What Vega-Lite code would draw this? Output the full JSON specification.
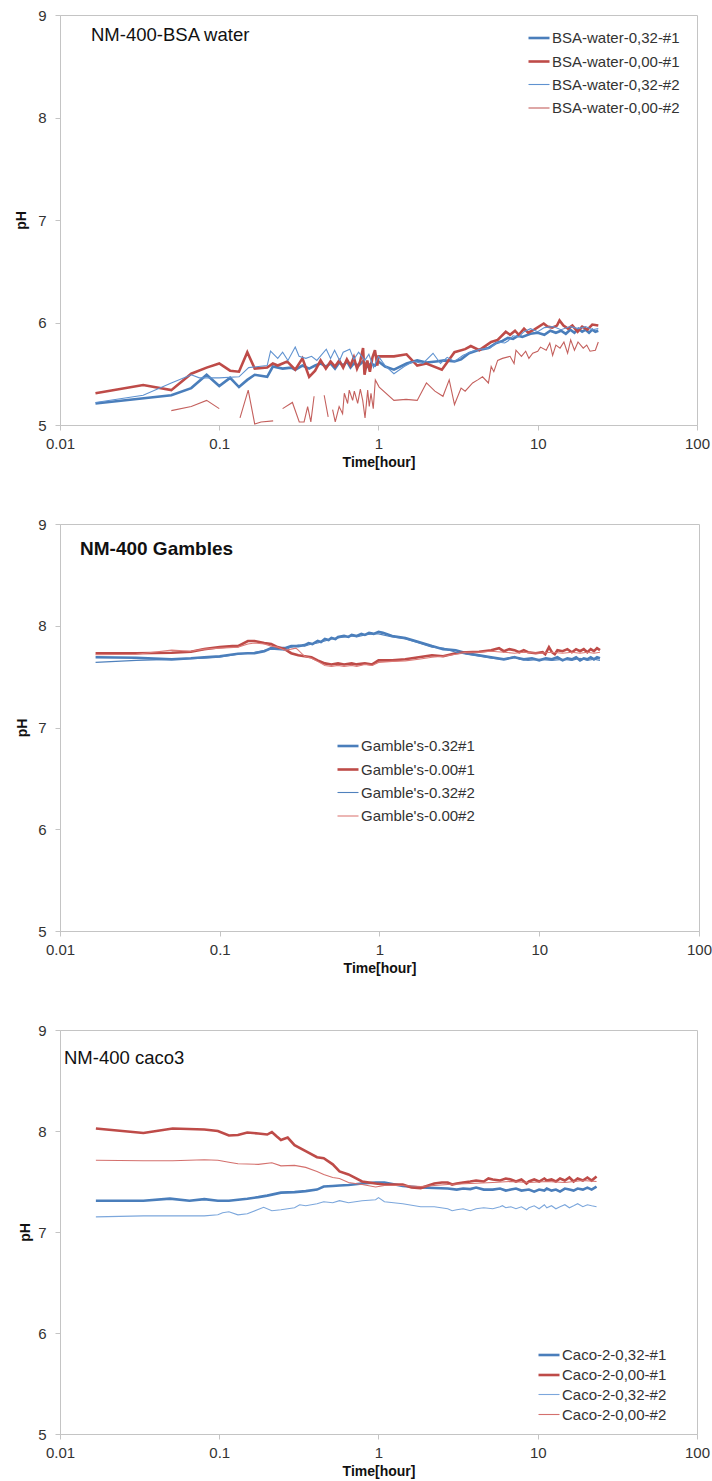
{
  "$schema": "https://vega.github.io/schema/vega-lite/v6.json",
  "background": "white",
  "padding": {"left": 14, "top": 7, "right": 10, "bottom": 5},
  "spacing": 46,
  "config": {
    "font": "Liberation Sans",
    "view": {"stroke": "#c4c4c4", "strokeWidth": 1},
    "axis": {
      "grid": false,
      "domainColor": "#c4c4c4",
      "tickColor": "#c4c4c4",
      "tickSize": 5,
      "labelFontSize": 15,
      "labelColor": "#333333",
      "titleFontSize": 14,
      "titleFontWeight": "bold",
      "titleColor": "#111111"
    },
    "axisX": {"labelPadding": 6, "titlePadding": 4, "labelFlush": false},
    "axisY": {"labelPadding": 9, "titlePadding": 9, "labelFlush": false},
    "legend": {
      "orient": "none",
      "padding": 0,
      "symbolType": "stroke",
      "symbolSize": 441,
      "labelFontSize": 15,
      "labelColor": "#333333",
      "labelOffset": 1,
      "rowPadding": 3.5
    },
    "title": {"anchor": "start", "frame": "group", "color": "#111111", "fontWeight": "normal"}
  },
  "resolve": {"scale": {"color": "independent", "strokeWidth": "independent"}, "legend": {"color": "independent", "strokeWidth": "independent"}},
  "datasets": {
    "bsa": [
      {"run": "0,32-#1", "t": 0.0167, "pH": 5.21}, {"run": "0,32-#1", "t": 0.05, "pH": 5.29}, {"run": "0,32-#1", "t": 0.0667, "pH": 5.36},
      {"run": "0,32-#1", "t": 0.0833, "pH": 5.49}, {"run": "0,32-#1", "t": 0.1, "pH": 5.38}, {"run": "0,32-#1", "t": 0.117, "pH": 5.46},
      {"run": "0,32-#1", "t": 0.133, "pH": 5.37}, {"run": "0,32-#1", "t": 0.15, "pH": 5.44}, {"run": "0,32-#1", "t": 0.167, "pH": 5.49},
      {"run": "0,32-#1", "t": 0.2, "pH": 5.47}, {"run": "0,32-#1", "t": 0.217, "pH": 5.57}, {"run": "0,32-#1", "t": 0.25, "pH": 5.55},
      {"run": "0,32-#1", "t": 0.283, "pH": 5.56}, {"run": "0,32-#1", "t": 0.3, "pH": 5.54}, {"run": "0,32-#1", "t": 0.333, "pH": 5.58},
      {"run": "0,32-#1", "t": 0.367, "pH": 5.55}, {"run": "0,32-#1", "t": 0.4, "pH": 5.58}, {"run": "0,32-#1", "t": 0.433, "pH": 5.6},
      {"run": "0,32-#1", "t": 0.467, "pH": 5.57}, {"run": "0,32-#1", "t": 0.5, "pH": 5.6}, {"run": "0,32-#1", "t": 0.533, "pH": 5.55},
      {"run": "0,32-#1", "t": 0.567, "pH": 5.61}, {"run": "0,32-#1", "t": 0.6, "pH": 5.58}, {"run": "0,32-#1", "t": 0.633, "pH": 5.62},
      {"run": "0,32-#1", "t": 0.667, "pH": 5.56}, {"run": "0,32-#1", "t": 0.7, "pH": 5.6}, {"run": "0,32-#1", "t": 0.75, "pH": 5.58},
      {"run": "0,32-#1", "t": 0.8, "pH": 5.62}, {"run": "0,32-#1", "t": 0.85, "pH": 5.57}, {"run": "0,32-#1", "t": 0.9, "pH": 5.6},
      {"run": "0,32-#1", "t": 0.95, "pH": 5.58}, {"run": "0,32-#1", "t": 1.0, "pH": 5.62}, {"run": "0,32-#1", "t": 1.1, "pH": 5.57},
      {"run": "0,32-#1", "t": 1.25, "pH": 5.54}, {"run": "0,32-#1", "t": 1.5, "pH": 5.6}, {"run": "0,32-#1", "t": 1.75, "pH": 5.63},
      {"run": "0,32-#1", "t": 2.0, "pH": 5.61}, {"run": "0,32-#1", "t": 2.3, "pH": 5.62}, {"run": "0,32-#1", "t": 2.6, "pH": 5.63},
      {"run": "0,32-#1", "t": 3.0, "pH": 5.62}, {"run": "0,32-#1", "t": 3.3, "pH": 5.64}, {"run": "0,32-#1", "t": 3.7, "pH": 5.7},
      {"run": "0,32-#1", "t": 4.2, "pH": 5.73}, {"run": "0,32-#1", "t": 4.9, "pH": 5.75}, {"run": "0,32-#1", "t": 5.5, "pH": 5.8},
      {"run": "0,32-#1", "t": 6.0, "pH": 5.82}, {"run": "0,32-#1", "t": 6.5, "pH": 5.85}, {"run": "0,32-#1", "t": 7.0, "pH": 5.84},
      {"run": "0,32-#1", "t": 7.5, "pH": 5.87}, {"run": "0,32-#1", "t": 8.0, "pH": 5.86}, {"run": "0,32-#1", "t": 9.0, "pH": 5.89},
      {"run": "0,32-#1", "t": 10, "pH": 5.9}, {"run": "0,32-#1", "t": 11, "pH": 5.88}, {"run": "0,32-#1", "t": 12, "pH": 5.92},
      {"run": "0,32-#1", "t": 13, "pH": 5.9}, {"run": "0,32-#1", "t": 14, "pH": 5.92}, {"run": "0,32-#1", "t": 15, "pH": 5.89},
      {"run": "0,32-#1", "t": 16, "pH": 5.93}, {"run": "0,32-#1", "t": 17, "pH": 5.9}, {"run": "0,32-#1", "t": 18, "pH": 5.94},
      {"run": "0,32-#1", "t": 19, "pH": 5.91}, {"run": "0,32-#1", "t": 20, "pH": 5.93}, {"run": "0,32-#1", "t": 21, "pH": 5.9},
      {"run": "0,32-#1", "t": 22, "pH": 5.93}, {"run": "0,32-#1", "t": 23, "pH": 5.91}, {"run": "0,32-#1", "t": 24, "pH": 5.92},

      {"run": "0,00-#1", "t": 0.0167, "pH": 5.31}, {"run": "0,00-#1", "t": 0.0333, "pH": 5.39}, {"run": "0,00-#1", "t": 0.05, "pH": 5.34},
      {"run": "0,00-#1", "t": 0.0667, "pH": 5.5}, {"run": "0,00-#1", "t": 0.0833, "pH": 5.56}, {"run": "0,00-#1", "t": 0.1, "pH": 5.6},
      {"run": "0,00-#1", "t": 0.117, "pH": 5.53}, {"run": "0,00-#1", "t": 0.133, "pH": 5.52}, {"run": "0,00-#1", "t": 0.15, "pH": 5.71},
      {"run": "0,00-#1", "t": 0.167, "pH": 5.55}, {"run": "0,00-#1", "t": 0.2, "pH": 5.56}, {"run": "0,00-#1", "t": 0.217, "pH": 5.6},
      {"run": "0,00-#1", "t": 0.233, "pH": 5.58}, {"run": "0,00-#1", "t": 0.267, "pH": 5.62}, {"run": "0,00-#1", "t": 0.3, "pH": 5.54},
      {"run": "0,00-#1", "t": 0.333, "pH": 5.65}, {"run": "0,00-#1", "t": 0.367, "pH": 5.47}, {"run": "0,00-#1", "t": 0.4, "pH": 5.53},
      {"run": "0,00-#1", "t": 0.433, "pH": 5.63}, {"run": "0,00-#1", "t": 0.467, "pH": 5.55}, {"run": "0,00-#1", "t": 0.5, "pH": 5.62},
      {"run": "0,00-#1", "t": 0.533, "pH": 5.57}, {"run": "0,00-#1", "t": 0.567, "pH": 5.63}, {"run": "0,00-#1", "t": 0.6, "pH": 5.56},
      {"run": "0,00-#1", "t": 0.633, "pH": 5.64}, {"run": "0,00-#1", "t": 0.667, "pH": 5.58}, {"run": "0,00-#1", "t": 0.7, "pH": 5.66},
      {"run": "0,00-#1", "t": 0.733, "pH": 5.55}, {"run": "0,00-#1", "t": 0.767, "pH": 5.62}, {"run": "0,00-#1", "t": 0.8, "pH": 5.75},
      {"run": "0,00-#1", "t": 0.817, "pH": 5.49}, {"run": "0,00-#1", "t": 0.85, "pH": 5.63}, {"run": "0,00-#1", "t": 0.883, "pH": 5.52},
      {"run": "0,00-#1", "t": 0.917, "pH": 5.66}, {"run": "0,00-#1", "t": 0.95, "pH": 5.73}, {"run": "0,00-#1", "t": 0.983, "pH": 5.58},
      {"run": "0,00-#1", "t": 1.0, "pH": 5.67}, {"run": "0,00-#1", "t": 1.25, "pH": 5.67}, {"run": "0,00-#1", "t": 1.5, "pH": 5.69},
      {"run": "0,00-#1", "t": 1.75, "pH": 5.58}, {"run": "0,00-#1", "t": 2.0, "pH": 5.6}, {"run": "0,00-#1", "t": 2.5, "pH": 5.54},
      {"run": "0,00-#1", "t": 3.0, "pH": 5.71}, {"run": "0,00-#1", "t": 3.5, "pH": 5.74}, {"run": "0,00-#1", "t": 3.8, "pH": 5.77},
      {"run": "0,00-#1", "t": 4.3, "pH": 5.73}, {"run": "0,00-#1", "t": 5.1, "pH": 5.81}, {"run": "0,00-#1", "t": 5.6, "pH": 5.83},
      {"run": "0,00-#1", "t": 6.3, "pH": 5.91}, {"run": "0,00-#1", "t": 6.7, "pH": 5.88}, {"run": "0,00-#1", "t": 7.2, "pH": 5.92},
      {"run": "0,00-#1", "t": 7.6, "pH": 5.88}, {"run": "0,00-#1", "t": 8.2, "pH": 5.94}, {"run": "0,00-#1", "t": 8.7, "pH": 5.9},
      {"run": "0,00-#1", "t": 9.5, "pH": 5.93}, {"run": "0,00-#1", "t": 10.9, "pH": 5.99}, {"run": "0,00-#1", "t": 11.5, "pH": 5.96},
      {"run": "0,00-#1", "t": 12.3, "pH": 5.95}, {"run": "0,00-#1", "t": 13.2, "pH": 5.97}, {"run": "0,00-#1", "t": 13.7, "pH": 6.02},
      {"run": "0,00-#1", "t": 14.5, "pH": 5.97}, {"run": "0,00-#1", "t": 15.5, "pH": 5.94}, {"run": "0,00-#1", "t": 16.5, "pH": 5.97},
      {"run": "0,00-#1", "t": 17.8, "pH": 5.91}, {"run": "0,00-#1", "t": 19, "pH": 5.96}, {"run": "0,00-#1", "t": 20.5, "pH": 5.93},
      {"run": "0,00-#1", "t": 22, "pH": 5.98}, {"run": "0,00-#1", "t": 24, "pH": 5.97},

      {"run": "0,32-#2", "t": 0.0167, "pH": 5.22}, {"run": "0,32-#2", "t": 0.0333, "pH": 5.29}, {"run": "0,32-#2", "t": 0.05, "pH": 5.41},
      {"run": "0,32-#2", "t": 0.0667, "pH": 5.49}, {"run": "0,32-#2", "t": 0.075, "pH": 5.46}, {"run": "0,32-#2", "t": 0.1, "pH": 5.46},
      {"run": "0,32-#2", "t": 0.133, "pH": 5.47}, {"run": "0,32-#2", "t": 0.153, "pH": 5.56}, {"run": "0,32-#2", "t": 0.2, "pH": 5.58},
      {"run": "0,32-#2", "t": 0.21, "pH": 5.72}, {"run": "0,32-#2", "t": 0.233, "pH": 5.65}, {"run": "0,32-#2", "t": 0.25, "pH": 5.71},
      {"run": "0,32-#2", "t": 0.27, "pH": 5.63}, {"run": "0,32-#2", "t": 0.3, "pH": 5.76}, {"run": "0,32-#2", "t": 0.317, "pH": 5.67},
      {"run": "0,32-#2", "t": 0.35, "pH": 5.65}, {"run": "0,32-#2", "t": 0.38, "pH": 5.67}, {"run": "0,32-#2", "t": 0.41, "pH": 5.63},
      {"run": "0,32-#2", "t": 0.47, "pH": 5.74}, {"run": "0,32-#2", "t": 0.5, "pH": 5.65}, {"run": "0,32-#2", "t": 0.53, "pH": 5.73},
      {"run": "0,32-#2", "t": 0.57, "pH": 5.63}, {"run": "0,32-#2", "t": 0.6, "pH": 5.71}, {"run": "0,32-#2", "t": 0.66, "pH": 5.74},
      {"run": "0,32-#2", "t": 0.7, "pH": 5.64}, {"run": "0,32-#2", "t": 0.75, "pH": 5.71}, {"run": "0,32-#2", "t": 0.82, "pH": 5.63},
      {"run": "0,32-#2", "t": 0.87, "pH": 5.69}, {"run": "0,32-#2", "t": 0.93, "pH": 5.56}, {"run": "0,32-#2", "t": 1.0, "pH": 5.67},
      {"run": "0,32-#2", "t": 1.1, "pH": 5.58}, {"run": "0,32-#2", "t": 1.25, "pH": 5.5}, {"run": "0,32-#2", "t": 1.45, "pH": 5.57},
      {"run": "0,32-#2", "t": 1.65, "pH": 5.62}, {"run": "0,32-#2", "t": 1.9, "pH": 5.6}, {"run": "0,32-#2", "t": 2.2, "pH": 5.7},
      {"run": "0,32-#2", "t": 2.45, "pH": 5.6}, {"run": "0,32-#2", "t": 2.7, "pH": 5.66}, {"run": "0,32-#2", "t": 3.0, "pH": 5.62},
      {"run": "0,32-#2", "t": 3.4, "pH": 5.68}, {"run": "0,32-#2", "t": 3.9, "pH": 5.72}, {"run": "0,32-#2", "t": 4.4, "pH": 5.74},
      {"run": "0,32-#2", "t": 5.0, "pH": 5.75}, {"run": "0,32-#2", "t": 5.6, "pH": 5.81}, {"run": "0,32-#2", "t": 6.2, "pH": 5.8},
      {"run": "0,32-#2", "t": 6.5, "pH": 5.82}, {"run": "0,32-#2", "t": 7.0, "pH": 5.87}, {"run": "0,32-#2", "t": 7.6, "pH": 5.86},
      {"run": "0,32-#2", "t": 8.2, "pH": 5.91}, {"run": "0,32-#2", "t": 9.0, "pH": 5.94}, {"run": "0,32-#2", "t": 10, "pH": 5.91},
      {"run": "0,32-#2", "t": 11, "pH": 5.95}, {"run": "0,32-#2", "t": 12.5, "pH": 5.96}, {"run": "0,32-#2", "t": 14, "pH": 5.93},
      {"run": "0,32-#2", "t": 16, "pH": 5.96}, {"run": "0,32-#2", "t": 18, "pH": 5.94}, {"run": "0,32-#2", "t": 20, "pH": 5.96},
      {"run": "0,32-#2", "t": 22, "pH": 5.93}, {"run": "0,32-#2", "t": 24, "pH": 5.94},

      {"run": "0,00-#2", "t": 0.05, "pH": 5.14}, {"run": "0,00-#2", "t": 0.0667, "pH": 5.18}, {"run": "0,00-#2", "t": 0.0833, "pH": 5.24},
      {"run": "0,00-#2", "t": 0.1, "pH": 5.16}, {"run": "0,00-#2", "t": 0.117, "pH": null},
      {"run": "0,00-#2", "t": 0.135, "pH": 5.07}, {"run": "0,00-#2", "t": 0.152, "pH": 5.34}, {"run": "0,00-#2", "t": 0.167, "pH": 5.01},
      {"run": "0,00-#2", "t": 0.183, "pH": 5.03}, {"run": "0,00-#2", "t": 0.218, "pH": 5.04}, {"run": "0,00-#2", "t": 0.233, "pH": null},
      {"run": "0,00-#2", "t": 0.25, "pH": 5.16}, {"run": "0,00-#2", "t": 0.288, "pH": 5.22}, {"run": "0,00-#2", "t": 0.318, "pH": 5.03},
      {"run": "0,00-#2", "t": 0.341, "pH": 5.03}, {"run": "0,00-#2", "t": 0.359, "pH": 5.18}, {"run": "0,00-#2", "t": 0.376, "pH": 5.03},
      {"run": "0,00-#2", "t": 0.394, "pH": 5.28}, {"run": "0,00-#2", "t": 0.43, "pH": null},
      {"run": "0,00-#2", "t": 0.456, "pH": 5.29}, {"run": "0,00-#2", "t": 0.483, "pH": 5.08}, {"run": "0,00-#2", "t": 0.5, "pH": null},
      {"run": "0,00-#2", "t": 0.515, "pH": 5.15}, {"run": "0,00-#2", "t": 0.535, "pH": 5.03}, {"run": "0,00-#2", "t": 0.566, "pH": 5.18},
      {"run": "0,00-#2", "t": 0.595, "pH": 5.11}, {"run": "0,00-#2", "t": 0.61, "pH": 5.31}, {"run": "0,00-#2", "t": 0.64, "pH": 5.21},
      {"run": "0,00-#2", "t": 0.655, "pH": 5.34}, {"run": "0,00-#2", "t": 0.688, "pH": 5.24}, {"run": "0,00-#2", "t": 0.705, "pH": 5.33},
      {"run": "0,00-#2", "t": 0.74, "pH": 5.21}, {"run": "0,00-#2", "t": 0.769, "pH": 5.35}, {"run": "0,00-#2", "t": 0.796, "pH": 5.24},
      {"run": "0,00-#2", "t": 0.823, "pH": 5.07}, {"run": "0,00-#2", "t": 0.855, "pH": 5.34}, {"run": "0,00-#2", "t": 0.875, "pH": 5.18},
      {"run": "0,00-#2", "t": 0.897, "pH": 5.31}, {"run": "0,00-#2", "t": 0.927, "pH": 5.16}, {"run": "0,00-#2", "t": 0.955, "pH": 5.44},
      {"run": "0,00-#2", "t": 1.01, "pH": 5.37}, {"run": "0,00-#2", "t": 1.25, "pH": 5.24}, {"run": "0,00-#2", "t": 1.49, "pH": 5.25},
      {"run": "0,00-#2", "t": 1.75, "pH": 5.24}, {"run": "0,00-#2", "t": 2.0, "pH": 5.41}, {"run": "0,00-#2", "t": 2.26, "pH": 5.33},
      {"run": "0,00-#2", "t": 2.54, "pH": 5.28}, {"run": "0,00-#2", "t": 2.78, "pH": 5.44}, {"run": "0,00-#2", "t": 3.0, "pH": 5.2},
      {"run": "0,00-#2", "t": 3.3, "pH": 5.36}, {"run": "0,00-#2", "t": 3.5, "pH": 5.33}, {"run": "0,00-#2", "t": 3.9, "pH": 5.41},
      {"run": "0,00-#2", "t": 4.2, "pH": 5.44}, {"run": "0,00-#2", "t": 4.5, "pH": 5.47}, {"run": "0,00-#2", "t": 4.9, "pH": 5.41},
      {"run": "0,00-#2", "t": 5.1, "pH": 5.57}, {"run": "0,00-#2", "t": 5.3, "pH": 5.52}, {"run": "0,00-#2", "t": 5.6, "pH": 5.63},
      {"run": "0,00-#2", "t": 6.0, "pH": 5.65}, {"run": "0,00-#2", "t": 6.7, "pH": 5.67}, {"run": "0,00-#2", "t": 7.1, "pH": 5.6},
      {"run": "0,00-#2", "t": 7.3, "pH": 5.73}, {"run": "0,00-#2", "t": 7.9, "pH": 5.67}, {"run": "0,00-#2", "t": 8.4, "pH": 5.72},
      {"run": "0,00-#2", "t": 8.8, "pH": 5.65}, {"run": "0,00-#2", "t": 9.3, "pH": 5.7}, {"run": "0,00-#2", "t": 10.0, "pH": 5.72},
      {"run": "0,00-#2", "t": 10.4, "pH": 5.76}, {"run": "0,00-#2", "t": 11.3, "pH": 5.73}, {"run": "0,00-#2", "t": 11.9, "pH": 5.8},
      {"run": "0,00-#2", "t": 12.4, "pH": 5.68}, {"run": "0,00-#2", "t": 13.0, "pH": 5.78}, {"run": "0,00-#2", "t": 13.8, "pH": 5.75},
      {"run": "0,00-#2", "t": 14.6, "pH": 5.81}, {"run": "0,00-#2", "t": 15.4, "pH": 5.7}, {"run": "0,00-#2", "t": 16.1, "pH": 5.83},
      {"run": "0,00-#2", "t": 17.0, "pH": 5.73}, {"run": "0,00-#2", "t": 17.9, "pH": 5.81}, {"run": "0,00-#2", "t": 19.3, "pH": 5.75},
      {"run": "0,00-#2", "t": 20.3, "pH": 5.78}, {"run": "0,00-#2", "t": 21.3, "pH": 5.72}, {"run": "0,00-#2", "t": 23.0, "pH": 5.73},
      {"run": "0,00-#2", "t": 24, "pH": 5.81}
    ],
    "gambles": [
      {"run": "0.32#1", "t": 0.0167, "pH": 7.69}, {"run": "0.32#1", "t": 0.03, "pH": 7.685}, {"run": "0.32#1", "t": 0.05, "pH": 7.67},
      {"run": "0.32#1", "t": 0.066, "pH": 7.68}, {"run": "0.32#1", "t": 0.08, "pH": 7.69}, {"run": "0.32#1", "t": 0.1, "pH": 7.7},
      {"run": "0.32#1", "t": 0.13, "pH": 7.725}, {"run": "0.32#1", "t": 0.15, "pH": 7.73}, {"run": "0.32#1", "t": 0.165, "pH": 7.73},
      {"run": "0.32#1", "t": 0.19, "pH": 7.75}, {"run": "0.32#1", "t": 0.21, "pH": 7.78}, {"run": "0.32#1", "t": 0.23, "pH": 7.78},
      {"run": "0.32#1", "t": 0.255, "pH": 7.78}, {"run": "0.32#1", "t": 0.28, "pH": 7.8}, {"run": "0.32#1", "t": 0.31, "pH": 7.8},
      {"run": "0.32#1", "t": 0.34, "pH": 7.81}, {"run": "0.32#1", "t": 0.36, "pH": 7.83}, {"run": "0.32#1", "t": 0.38, "pH": 7.82},
      {"run": "0.32#1", "t": 0.41, "pH": 7.85}, {"run": "0.32#1", "t": 0.43, "pH": 7.84}, {"run": "0.32#1", "t": 0.455, "pH": 7.87},
      {"run": "0.32#1", "t": 0.48, "pH": 7.86}, {"run": "0.32#1", "t": 0.5, "pH": 7.88}, {"run": "0.32#1", "t": 0.53, "pH": 7.87},
      {"run": "0.32#1", "t": 0.55, "pH": 7.89}, {"run": "0.32#1", "t": 0.6, "pH": 7.9}, {"run": "0.32#1", "t": 0.64, "pH": 7.89},
      {"run": "0.32#1", "t": 0.67, "pH": 7.91}, {"run": "0.32#1", "t": 0.72, "pH": 7.9}, {"run": "0.32#1", "t": 0.77, "pH": 7.92},
      {"run": "0.32#1", "t": 0.81, "pH": 7.91}, {"run": "0.32#1", "t": 0.86, "pH": 7.93}, {"run": "0.32#1", "t": 0.92, "pH": 7.92},
      {"run": "0.32#1", "t": 0.986, "pH": 7.94}, {"run": "0.32#1", "t": 1.05, "pH": 7.93}, {"run": "0.32#1", "t": 1.2, "pH": 7.9},
      {"run": "0.32#1", "t": 1.45, "pH": 7.88}, {"run": "0.32#1", "t": 1.76, "pH": 7.84}, {"run": "0.32#1", "t": 2.13, "pH": 7.8},
      {"run": "0.32#1", "t": 2.5, "pH": 7.77}, {"run": "0.32#1", "t": 3.0, "pH": 7.76}, {"run": "0.32#1", "t": 3.5, "pH": 7.73},
      {"run": "0.32#1", "t": 4.2, "pH": 7.71}, {"run": "0.32#1", "t": 5.0, "pH": 7.69}, {"run": "0.32#1", "t": 6.0, "pH": 7.67},
      {"run": "0.32#1", "t": 7.0, "pH": 7.69}, {"run": "0.32#1", "t": 8.0, "pH": 7.67}, {"run": "0.32#1", "t": 9.0, "pH": 7.68},
      {"run": "0.32#1", "t": 10, "pH": 7.66}, {"run": "0.32#1", "t": 11, "pH": 7.68}, {"run": "0.32#1", "t": 12, "pH": 7.67},
      {"run": "0.32#1", "t": 13, "pH": 7.69}, {"run": "0.32#1", "t": 14, "pH": 7.66}, {"run": "0.32#1", "t": 15, "pH": 7.68},
      {"run": "0.32#1", "t": 16, "pH": 7.67}, {"run": "0.32#1", "t": 17, "pH": 7.69}, {"run": "0.32#1", "t": 18, "pH": 7.66},
      {"run": "0.32#1", "t": 19, "pH": 7.68}, {"run": "0.32#1", "t": 20, "pH": 7.67}, {"run": "0.32#1", "t": 21, "pH": 7.69},
      {"run": "0.32#1", "t": 22, "pH": 7.67}, {"run": "0.32#1", "t": 23, "pH": 7.69}, {"run": "0.32#1", "t": 24, "pH": 7.68},

      {"run": "0.00#1", "t": 0.0167, "pH": 7.73}, {"run": "0.00#1", "t": 0.03, "pH": 7.73}, {"run": "0.00#1", "t": 0.05, "pH": 7.735},
      {"run": "0.00#1", "t": 0.066, "pH": 7.745}, {"run": "0.00#1", "t": 0.08, "pH": 7.77}, {"run": "0.00#1", "t": 0.1, "pH": 7.79},
      {"run": "0.00#1", "t": 0.12, "pH": 7.8}, {"run": "0.00#1", "t": 0.13, "pH": 7.8}, {"run": "0.00#1", "t": 0.15, "pH": 7.85},
      {"run": "0.00#1", "t": 0.165, "pH": 7.85}, {"run": "0.00#1", "t": 0.19, "pH": 7.83}, {"run": "0.00#1", "t": 0.21, "pH": 7.82},
      {"run": "0.00#1", "t": 0.23, "pH": 7.79}, {"run": "0.00#1", "t": 0.255, "pH": 7.77}, {"run": "0.00#1", "t": 0.28, "pH": 7.73},
      {"run": "0.00#1", "t": 0.31, "pH": 7.71}, {"run": "0.00#1", "t": 0.34, "pH": 7.7}, {"run": "0.00#1", "t": 0.375, "pH": 7.69},
      {"run": "0.00#1", "t": 0.41, "pH": 7.66}, {"run": "0.00#1", "t": 0.455, "pH": 7.63}, {"run": "0.00#1", "t": 0.5, "pH": 7.62},
      {"run": "0.00#1", "t": 0.55, "pH": 7.63}, {"run": "0.00#1", "t": 0.6, "pH": 7.62}, {"run": "0.00#1", "t": 0.67, "pH": 7.63},
      {"run": "0.00#1", "t": 0.72, "pH": 7.62}, {"run": "0.00#1", "t": 0.81, "pH": 7.63}, {"run": "0.00#1", "t": 0.9, "pH": 7.62},
      {"run": "0.00#1", "t": 0.986, "pH": 7.66}, {"run": "0.00#1", "t": 1.2, "pH": 7.66}, {"run": "0.00#1", "t": 1.45, "pH": 7.67},
      {"run": "0.00#1", "t": 1.76, "pH": 7.69}, {"run": "0.00#1", "t": 2.13, "pH": 7.71}, {"run": "0.00#1", "t": 2.5, "pH": 7.7},
      {"run": "0.00#1", "t": 3.0, "pH": 7.73}, {"run": "0.00#1", "t": 3.5, "pH": 7.74}, {"run": "0.00#1", "t": 4.2, "pH": 7.745},
      {"run": "0.00#1", "t": 5.0, "pH": 7.76}, {"run": "0.00#1", "t": 5.6, "pH": 7.78}, {"run": "0.00#1", "t": 6.0, "pH": 7.75},
      {"run": "0.00#1", "t": 6.5, "pH": 7.77}, {"run": "0.00#1", "t": 7.0, "pH": 7.76}, {"run": "0.00#1", "t": 7.5, "pH": 7.74},
      {"run": "0.00#1", "t": 8.0, "pH": 7.76}, {"run": "0.00#1", "t": 8.5, "pH": 7.74}, {"run": "0.00#1", "t": 9.5, "pH": 7.73},
      {"run": "0.00#1", "t": 10.5, "pH": 7.74}, {"run": "0.00#1", "t": 10.9, "pH": 7.72}, {"run": "0.00#1", "t": 11.5, "pH": 7.79},
      {"run": "0.00#1", "t": 12, "pH": 7.74}, {"run": "0.00#1", "t": 12.5, "pH": 7.72}, {"run": "0.00#1", "t": 13, "pH": 7.76},
      {"run": "0.00#1", "t": 14, "pH": 7.75}, {"run": "0.00#1", "t": 15, "pH": 7.77}, {"run": "0.00#1", "t": 16, "pH": 7.74},
      {"run": "0.00#1", "t": 17, "pH": 7.77}, {"run": "0.00#1", "t": 18, "pH": 7.75}, {"run": "0.00#1", "t": 19, "pH": 7.77},
      {"run": "0.00#1", "t": 20, "pH": 7.74}, {"run": "0.00#1", "t": 21, "pH": 7.77}, {"run": "0.00#1", "t": 22, "pH": 7.75},
      {"run": "0.00#1", "t": 23, "pH": 7.78}, {"run": "0.00#1", "t": 24, "pH": 7.76},

      {"run": "0.32#2", "t": 0.0167, "pH": 7.64}, {"run": "0.32#2", "t": 0.03, "pH": 7.66}, {"run": "0.32#2", "t": 0.05, "pH": 7.67},
      {"run": "0.32#2", "t": 0.08, "pH": 7.68}, {"run": "0.32#2", "t": 0.1, "pH": 7.69}, {"run": "0.32#2", "t": 0.13, "pH": 7.72},
      {"run": "0.32#2", "t": 0.165, "pH": 7.74}, {"run": "0.32#2", "t": 0.21, "pH": 7.77}, {"run": "0.32#2", "t": 0.255, "pH": 7.76},
      {"run": "0.32#2", "t": 0.28, "pH": 7.79}, {"run": "0.32#2", "t": 0.31, "pH": 7.81}, {"run": "0.32#2", "t": 0.34, "pH": 7.8},
      {"run": "0.32#2", "t": 0.375, "pH": 7.82}, {"run": "0.32#2", "t": 0.41, "pH": 7.83}, {"run": "0.32#2", "t": 0.455, "pH": 7.85},
      {"run": "0.32#2", "t": 0.5, "pH": 7.87}, {"run": "0.32#2", "t": 0.55, "pH": 7.88}, {"run": "0.32#2", "t": 0.6, "pH": 7.89},
      {"run": "0.32#2", "t": 0.67, "pH": 7.9}, {"run": "0.32#2", "t": 0.72, "pH": 7.89}, {"run": "0.32#2", "t": 0.81, "pH": 7.91},
      {"run": "0.32#2", "t": 0.9, "pH": 7.92}, {"run": "0.32#2", "t": 0.986, "pH": 7.92}, {"run": "0.32#2", "t": 1.2, "pH": 7.89},
      {"run": "0.32#2", "t": 1.45, "pH": 7.87}, {"run": "0.32#2", "t": 1.76, "pH": 7.83}, {"run": "0.32#2", "t": 2.13, "pH": 7.79},
      {"run": "0.32#2", "t": 2.5, "pH": 7.78}, {"run": "0.32#2", "t": 3.0, "pH": 7.74}, {"run": "0.32#2", "t": 3.5, "pH": 7.72},
      {"run": "0.32#2", "t": 4.2, "pH": 7.7}, {"run": "0.32#2", "t": 5.0, "pH": 7.68}, {"run": "0.32#2", "t": 6.0, "pH": 7.67},
      {"run": "0.32#2", "t": 7.0, "pH": 7.7}, {"run": "0.32#2", "t": 7.5, "pH": 7.67}, {"run": "0.32#2", "t": 8.5, "pH": 7.66},
      {"run": "0.32#2", "t": 10, "pH": 7.67}, {"run": "0.32#2", "t": 12, "pH": 7.66}, {"run": "0.32#2", "t": 14, "pH": 7.67},
      {"run": "0.32#2", "t": 16, "pH": 7.66}, {"run": "0.32#2", "t": 18, "pH": 7.68}, {"run": "0.32#2", "t": 20, "pH": 7.66},
      {"run": "0.32#2", "t": 22, "pH": 7.67}, {"run": "0.32#2", "t": 24, "pH": 7.66},

      {"run": "0.00#2", "t": 0.0167, "pH": 7.715}, {"run": "0.00#2", "t": 0.03, "pH": 7.72}, {"run": "0.00#2", "t": 0.05, "pH": 7.76},
      {"run": "0.00#2", "t": 0.066, "pH": 7.75}, {"run": "0.00#2", "t": 0.08, "pH": 7.77}, {"run": "0.00#2", "t": 0.1, "pH": 7.78},
      {"run": "0.00#2", "t": 0.13, "pH": 7.79}, {"run": "0.00#2", "t": 0.15, "pH": 7.82}, {"run": "0.00#2", "t": 0.165, "pH": 7.83},
      {"run": "0.00#2", "t": 0.19, "pH": 7.82}, {"run": "0.00#2", "t": 0.21, "pH": 7.8}, {"run": "0.00#2", "t": 0.23, "pH": 7.79},
      {"run": "0.00#2", "t": 0.255, "pH": 7.76}, {"run": "0.00#2", "t": 0.28, "pH": 7.77}, {"run": "0.00#2", "t": 0.3, "pH": 7.78},
      {"run": "0.00#2", "t": 0.31, "pH": 7.76}, {"run": "0.00#2", "t": 0.34, "pH": 7.7}, {"run": "0.00#2", "t": 0.375, "pH": 7.68},
      {"run": "0.00#2", "t": 0.41, "pH": 7.65}, {"run": "0.00#2", "t": 0.455, "pH": 7.61}, {"run": "0.00#2", "t": 0.5, "pH": 7.6},
      {"run": "0.00#2", "t": 0.55, "pH": 7.61}, {"run": "0.00#2", "t": 0.6, "pH": 7.6}, {"run": "0.00#2", "t": 0.67, "pH": 7.61},
      {"run": "0.00#2", "t": 0.72, "pH": 7.6}, {"run": "0.00#2", "t": 0.81, "pH": 7.62}, {"run": "0.00#2", "t": 0.9, "pH": 7.61},
      {"run": "0.00#2", "t": 0.986, "pH": 7.64}, {"run": "0.00#2", "t": 1.2, "pH": 7.65}, {"run": "0.00#2", "t": 1.45, "pH": 7.655},
      {"run": "0.00#2", "t": 1.76, "pH": 7.67}, {"run": "0.00#2", "t": 2.13, "pH": 7.69}, {"run": "0.00#2", "t": 2.5, "pH": 7.7},
      {"run": "0.00#2", "t": 3.0, "pH": 7.72}, {"run": "0.00#2", "t": 3.5, "pH": 7.74}, {"run": "0.00#2", "t": 4.2, "pH": 7.74},
      {"run": "0.00#2", "t": 5.0, "pH": 7.75}, {"run": "0.00#2", "t": 6.0, "pH": 7.74}, {"run": "0.00#2", "t": 7.0, "pH": 7.73},
      {"run": "0.00#2", "t": 8.0, "pH": 7.74}, {"run": "0.00#2", "t": 10, "pH": 7.73}, {"run": "0.00#2", "t": 12, "pH": 7.74},
      {"run": "0.00#2", "t": 14, "pH": 7.73}, {"run": "0.00#2", "t": 16, "pH": 7.74}, {"run": "0.00#2", "t": 18, "pH": 7.73},
      {"run": "0.00#2", "t": 20, "pH": 7.74}, {"run": "0.00#2", "t": 22, "pH": 7.73}, {"run": "0.00#2", "t": 24, "pH": 7.74}
    ],
    "caco": [
      {"run": "0,32-#1", "t": 0.0168, "pH": 7.31}, {"run": "0,32-#1", "t": 0.0334, "pH": 7.31}, {"run": "0,32-#1", "t": 0.049, "pH": 7.33},
      {"run": "0,32-#1", "t": 0.065, "pH": 7.31}, {"run": "0,32-#1", "t": 0.0806, "pH": 7.325}, {"run": "0,32-#1", "t": 0.098, "pH": 7.31},
      {"run": "0,32-#1", "t": 0.115, "pH": 7.31}, {"run": "0,32-#1", "t": 0.15, "pH": 7.33}, {"run": "0,32-#1", "t": 0.176, "pH": 7.345},
      {"run": "0,32-#1", "t": 0.2, "pH": 7.36}, {"run": "0,32-#1", "t": 0.214, "pH": 7.37}, {"run": "0,32-#1", "t": 0.244, "pH": 7.39},
      {"run": "0,32-#1", "t": 0.297, "pH": 7.395}, {"run": "0,32-#1", "t": 0.349, "pH": 7.405}, {"run": "0,32-#1", "t": 0.411, "pH": 7.42},
      {"run": "0,32-#1", "t": 0.453, "pH": 7.45}, {"run": "0,32-#1", "t": 0.516, "pH": 7.455}, {"run": "0,32-#1", "t": 0.569, "pH": 7.46},
      {"run": "0,32-#1", "t": 0.648, "pH": 7.465}, {"run": "0,32-#1", "t": 0.789, "pH": 7.48}, {"run": "0,32-#1", "t": 0.959, "pH": 7.49},
      {"run": "0,32-#1", "t": 1.09, "pH": 7.49}, {"run": "0,32-#1", "t": 1.42, "pH": 7.455}, {"run": "0,32-#1", "t": 1.84, "pH": 7.44},
      {"run": "0,32-#1", "t": 2.24, "pH": 7.435}, {"run": "0,32-#1", "t": 2.72, "pH": 7.43}, {"run": "0,32-#1", "t": 3.1, "pH": 7.42},
      {"run": "0,32-#1", "t": 3.4, "pH": 7.43}, {"run": "0,32-#1", "t": 3.77, "pH": 7.425}, {"run": "0,32-#1", "t": 4.1, "pH": 7.44},
      {"run": "0,32-#1", "t": 4.58, "pH": 7.42}, {"run": "0,32-#1", "t": 5.22, "pH": 7.42}, {"run": "0,32-#1", "t": 5.8, "pH": 7.43},
      {"run": "0,32-#1", "t": 6.3, "pH": 7.41}, {"run": "0,32-#1", "t": 6.78, "pH": 7.42}, {"run": "0,32-#1", "t": 7.3, "pH": 7.43},
      {"run": "0,32-#1", "t": 7.9, "pH": 7.41}, {"run": "0,32-#1", "t": 8.8, "pH": 7.42}, {"run": "0,32-#1", "t": 9.5, "pH": 7.4},
      {"run": "0,32-#1", "t": 10.2, "pH": 7.42}, {"run": "0,32-#1", "t": 11, "pH": 7.41}, {"run": "0,32-#1", "t": 11.4, "pH": 7.43},
      {"run": "0,32-#1", "t": 12.2, "pH": 7.41}, {"run": "0,32-#1", "t": 13, "pH": 7.42}, {"run": "0,32-#1", "t": 13.8, "pH": 7.4},
      {"run": "0,32-#1", "t": 14.8, "pH": 7.43}, {"run": "0,32-#1", "t": 15.8, "pH": 7.42}, {"run": "0,32-#1", "t": 16.8, "pH": 7.41},
      {"run": "0,32-#1", "t": 17.8, "pH": 7.43}, {"run": "0,32-#1", "t": 19.2, "pH": 7.42}, {"run": "0,32-#1", "t": 20.5, "pH": 7.44},
      {"run": "0,32-#1", "t": 21.8, "pH": 7.42}, {"run": "0,32-#1", "t": 23.4, "pH": 7.45},

      {"run": "0,00-#1", "t": 0.0168, "pH": 8.025}, {"run": "0,00-#1", "t": 0.0334, "pH": 7.98}, {"run": "0,00-#1", "t": 0.051, "pH": 8.025},
      {"run": "0,00-#1", "t": 0.0806, "pH": 8.015}, {"run": "0,00-#1", "t": 0.098, "pH": 8.0}, {"run": "0,00-#1", "t": 0.115, "pH": 7.955},
      {"run": "0,00-#1", "t": 0.131, "pH": 7.96}, {"run": "0,00-#1", "t": 0.15, "pH": 7.985}, {"run": "0,00-#1", "t": 0.176, "pH": 7.975},
      {"run": "0,00-#1", "t": 0.2, "pH": 7.965}, {"run": "0,00-#1", "t": 0.214, "pH": 7.99}, {"run": "0,00-#1", "t": 0.228, "pH": 7.95},
      {"run": "0,00-#1", "t": 0.244, "pH": 7.91}, {"run": "0,00-#1", "t": 0.269, "pH": 7.935}, {"run": "0,00-#1", "t": 0.297, "pH": 7.86},
      {"run": "0,00-#1", "t": 0.349, "pH": 7.8}, {"run": "0,00-#1", "t": 0.411, "pH": 7.74}, {"run": "0,00-#1", "t": 0.453, "pH": 7.73},
      {"run": "0,00-#1", "t": 0.516, "pH": 7.67}, {"run": "0,00-#1", "t": 0.569, "pH": 7.6}, {"run": "0,00-#1", "t": 0.648, "pH": 7.57},
      {"run": "0,00-#1", "t": 0.789, "pH": 7.5}, {"run": "0,00-#1", "t": 0.959, "pH": 7.48}, {"run": "0,00-#1", "t": 1.09, "pH": 7.47},
      {"run": "0,00-#1", "t": 1.42, "pH": 7.47}, {"run": "0,00-#1", "t": 1.61, "pH": 7.44}, {"run": "0,00-#1", "t": 1.84, "pH": 7.435},
      {"run": "0,00-#1", "t": 2.24, "pH": 7.48}, {"run": "0,00-#1", "t": 2.5, "pH": 7.49}, {"run": "0,00-#1", "t": 2.72, "pH": 7.49},
      {"run": "0,00-#1", "t": 2.9, "pH": 7.47}, {"run": "0,00-#1", "t": 3.1, "pH": 7.48}, {"run": "0,00-#1", "t": 3.4, "pH": 7.49},
      {"run": "0,00-#1", "t": 3.77, "pH": 7.5}, {"run": "0,00-#1", "t": 4.1, "pH": 7.51}, {"run": "0,00-#1", "t": 4.58, "pH": 7.5},
      {"run": "0,00-#1", "t": 4.9, "pH": 7.53}, {"run": "0,00-#1", "t": 5.22, "pH": 7.52}, {"run": "0,00-#1", "t": 5.8, "pH": 7.51},
      {"run": "0,00-#1", "t": 6.3, "pH": 7.53}, {"run": "0,00-#1", "t": 6.78, "pH": 7.52}, {"run": "0,00-#1", "t": 7.3, "pH": 7.5},
      {"run": "0,00-#1", "t": 7.9, "pH": 7.52}, {"run": "0,00-#1", "t": 8.5, "pH": 7.48}, {"run": "0,00-#1", "t": 8.8, "pH": 7.5},
      {"run": "0,00-#1", "t": 9.5, "pH": 7.52}, {"run": "0,00-#1", "t": 10.2, "pH": 7.5}, {"run": "0,00-#1", "t": 11, "pH": 7.53},
      {"run": "0,00-#1", "t": 11.4, "pH": 7.51}, {"run": "0,00-#1", "t": 12.2, "pH": 7.52}, {"run": "0,00-#1", "t": 13, "pH": 7.5},
      {"run": "0,00-#1", "t": 13.8, "pH": 7.53}, {"run": "0,00-#1", "t": 14.8, "pH": 7.51}, {"run": "0,00-#1", "t": 15.8, "pH": 7.54},
      {"run": "0,00-#1", "t": 16.8, "pH": 7.5}, {"run": "0,00-#1", "t": 17.8, "pH": 7.53}, {"run": "0,00-#1", "t": 19.2, "pH": 7.51},
      {"run": "0,00-#1", "t": 20.5, "pH": 7.54}, {"run": "0,00-#1", "t": 21.8, "pH": 7.51}, {"run": "0,00-#1", "t": 23.4, "pH": 7.55},

      {"run": "0,32-#2", "t": 0.0168, "pH": 7.15}, {"run": "0,32-#2", "t": 0.0334, "pH": 7.16}, {"run": "0,32-#2", "t": 0.051, "pH": 7.16},
      {"run": "0,32-#2", "t": 0.0806, "pH": 7.16}, {"run": "0,32-#2", "t": 0.098, "pH": 7.17}, {"run": "0,32-#2", "t": 0.105, "pH": 7.19},
      {"run": "0,32-#2", "t": 0.115, "pH": 7.2}, {"run": "0,32-#2", "t": 0.131, "pH": 7.17}, {"run": "0,32-#2", "t": 0.15, "pH": 7.18},
      {"run": "0,32-#2", "t": 0.19, "pH": 7.245}, {"run": "0,32-#2", "t": 0.214, "pH": 7.21}, {"run": "0,32-#2", "t": 0.244, "pH": 7.22},
      {"run": "0,32-#2", "t": 0.297, "pH": 7.24}, {"run": "0,32-#2", "t": 0.32, "pH": 7.27}, {"run": "0,32-#2", "t": 0.349, "pH": 7.26},
      {"run": "0,32-#2", "t": 0.411, "pH": 7.28}, {"run": "0,32-#2", "t": 0.453, "pH": 7.3}, {"run": "0,32-#2", "t": 0.516, "pH": 7.29},
      {"run": "0,32-#2", "t": 0.569, "pH": 7.31}, {"run": "0,32-#2", "t": 0.648, "pH": 7.29}, {"run": "0,32-#2", "t": 0.789, "pH": 7.31},
      {"run": "0,32-#2", "t": 0.959, "pH": 7.32}, {"run": "0,32-#2", "t": 1.0, "pH": 7.34}, {"run": "0,32-#2", "t": 1.09, "pH": 7.3},
      {"run": "0,32-#2", "t": 1.42, "pH": 7.28}, {"run": "0,32-#2", "t": 1.84, "pH": 7.25}, {"run": "0,32-#2", "t": 2.24, "pH": 7.25},
      {"run": "0,32-#2", "t": 2.72, "pH": 7.23}, {"run": "0,32-#2", "t": 2.9, "pH": 7.21}, {"run": "0,32-#2", "t": 3.1, "pH": 7.22},
      {"run": "0,32-#2", "t": 3.4, "pH": 7.23}, {"run": "0,32-#2", "t": 3.77, "pH": 7.21}, {"run": "0,32-#2", "t": 4.1, "pH": 7.23},
      {"run": "0,32-#2", "t": 4.58, "pH": 7.24}, {"run": "0,32-#2", "t": 5.22, "pH": 7.23}, {"run": "0,32-#2", "t": 5.8, "pH": 7.25},
      {"run": "0,32-#2", "t": 6.0, "pH": 7.26}, {"run": "0,32-#2", "t": 6.3, "pH": 7.24}, {"run": "0,32-#2", "t": 6.78, "pH": 7.25},
      {"run": "0,32-#2", "t": 7.3, "pH": 7.23}, {"run": "0,32-#2", "t": 7.9, "pH": 7.25}, {"run": "0,32-#2", "t": 8.5, "pH": 7.22},
      {"run": "0,32-#2", "t": 8.8, "pH": 7.24}, {"run": "0,32-#2", "t": 9.5, "pH": 7.26}, {"run": "0,32-#2", "t": 10.2, "pH": 7.23},
      {"run": "0,32-#2", "t": 11, "pH": 7.27}, {"run": "0,32-#2", "t": 11.4, "pH": 7.24}, {"run": "0,32-#2", "t": 12.2, "pH": 7.26},
      {"run": "0,32-#2", "t": 13, "pH": 7.23}, {"run": "0,32-#2", "t": 13.8, "pH": 7.25}, {"run": "0,32-#2", "t": 14.8, "pH": 7.27},
      {"run": "0,32-#2", "t": 15.8, "pH": 7.24}, {"run": "0,32-#2", "t": 16.8, "pH": 7.26}, {"run": "0,32-#2", "t": 17.8, "pH": 7.28},
      {"run": "0,32-#2", "t": 19.2, "pH": 7.25}, {"run": "0,32-#2", "t": 20.5, "pH": 7.27}, {"run": "0,32-#2", "t": 21.8, "pH": 7.26},
      {"run": "0,32-#2", "t": 23.4, "pH": 7.25},

      {"run": "0,00-#2", "t": 0.0168, "pH": 7.71}, {"run": "0,00-#2", "t": 0.0334, "pH": 7.705}, {"run": "0,00-#2", "t": 0.051, "pH": 7.705},
      {"run": "0,00-#2", "t": 0.0806, "pH": 7.715}, {"run": "0,00-#2", "t": 0.098, "pH": 7.71}, {"run": "0,00-#2", "t": 0.115, "pH": 7.69},
      {"run": "0,00-#2", "t": 0.131, "pH": 7.675}, {"run": "0,00-#2", "t": 0.176, "pH": 7.67}, {"run": "0,00-#2", "t": 0.214, "pH": 7.685},
      {"run": "0,00-#2", "t": 0.244, "pH": 7.655}, {"run": "0,00-#2", "t": 0.297, "pH": 7.66}, {"run": "0,00-#2", "t": 0.349, "pH": 7.64},
      {"run": "0,00-#2", "t": 0.411, "pH": 7.6}, {"run": "0,00-#2", "t": 0.453, "pH": 7.57}, {"run": "0,00-#2", "t": 0.516, "pH": 7.54},
      {"run": "0,00-#2", "t": 0.569, "pH": 7.53}, {"run": "0,00-#2", "t": 0.648, "pH": 7.49}, {"run": "0,00-#2", "t": 0.789, "pH": 7.47},
      {"run": "0,00-#2", "t": 0.959, "pH": 7.445}, {"run": "0,00-#2", "t": 1.09, "pH": 7.46}, {"run": "0,00-#2", "t": 1.42, "pH": 7.46},
      {"run": "0,00-#2", "t": 1.84, "pH": 7.45}, {"run": "0,00-#2", "t": 2.24, "pH": 7.46}, {"run": "0,00-#2", "t": 2.72, "pH": 7.47},
      {"run": "0,00-#2", "t": 3.77, "pH": 7.48}, {"run": "0,00-#2", "t": 5.22, "pH": 7.49}, {"run": "0,00-#2", "t": 6.78, "pH": 7.5},
      {"run": "0,00-#2", "t": 8.8, "pH": 7.49}, {"run": "0,00-#2", "t": 11.4, "pH": 7.5}, {"run": "0,00-#2", "t": 14.8, "pH": 7.49},
      {"run": "0,00-#2", "t": 19.2, "pH": 7.51}, {"run": "0,00-#2", "t": 23.4, "pH": 7.5}
    ]
  },
  "vconcat": [
    {
      "width": 637,
      "height": 410,
      "data": {"name": "bsa"},
      "title": {"text": "NM-400-BSA water", "fontSize": 18.5, "offset": -36, "dx": 31},
      "mark": {"type": "line", "clip": true},
      "encoding": {
        "x": {"field": "t", "type": "quantitative", "scale": {"type": "log", "domain": [0.01, 100]},
              "axis": {"title": "Time[hour]", "values": [0.01, 0.1, 1, 10, 100], "format": "~g"}},
        "y": {"field": "pH", "type": "quantitative", "scale": {"domain": [5, 9]},
              "axis": {"title": "pH", "values": [5, 6, 7, 8, 9], "format": "d"}},
        "color": {"field": "run", "type": "nominal",
                  "scale": {"domain": ["0,32-#1", "0,00-#1", "0,32-#2", "0,00-#2"], "range": ["#4a7ebb", "#be4b48", "#5f92d0", "#c4605d"]},
                  "legend": {"title": null, "legendX": 467, "legendY": 11, "labelExpr": "'BSA-water-' + datum.label"}},
        "strokeWidth": {"field": "run", "type": "nominal",
                        "scale": {"type": "ordinal", "domain": ["0,32-#1", "0,00-#1", "0,32-#2", "0,00-#2"], "range": [2.6, 2.6, 1.1, 1.1]},
                        "legend": {"title": null, "legendX": 467, "legendY": 11, "labelExpr": "'BSA-water-' + datum.label"}}
      }
    },
    {
      "width": 639,
      "height": 407,
      "data": {"name": "gambles"},
      "title": {"text": "NM-400 Gambles", "fontSize": 19, "fontWeight": "bold", "offset": -42, "dx": 20},
      "mark": {"type": "line", "clip": true},
      "encoding": {
        "x": {"field": "t", "type": "quantitative", "scale": {"type": "log", "domain": [0.01, 100]},
              "axis": {"title": "Time[hour]", "values": [0.01, 0.1, 1, 10, 100], "format": "~g"}},
        "y": {"field": "pH", "type": "quantitative", "scale": {"domain": [5, 9]},
              "axis": {"title": "pH", "values": [5, 6, 7, 8, 9], "format": "d", "titlePadding": 8}},
        "color": {"field": "run", "type": "nominal",
                  "scale": {"domain": ["0.32#1", "0.00#1", "0.32#2", "0.00#2"], "range": ["#4a7ebb", "#be4b48", "#4f81bd", "#dc7a77"]},
                  "legend": {"title": null, "legendX": 276, "legendY": 210, "labelExpr": "\"Gamble's-\" + datum.label"}},
        "strokeWidth": {"field": "run", "type": "nominal",
                        "scale": {"type": "ordinal", "domain": ["0.32#1", "0.00#1", "0.32#2", "0.00#2"], "range": [2.6, 2.6, 1.1, 1.1]},
                        "legend": {"title": null, "legendX": 276, "legendY": 210, "labelExpr": "\"Gamble's-\" + datum.label"}}
      }
    },
    {
      "width": 637,
      "height": 404,
      "data": {"name": "caco"},
      "title": {"text": "NM-400 caco3", "fontSize": 18.5, "offset": -44, "dx": 4},
      "mark": {"type": "line", "clip": true},
      "encoding": {
        "x": {"field": "t", "type": "quantitative", "scale": {"type": "log", "domain": [0.01, 100]},
              "axis": {"title": "Time[hour]", "values": [0.01, 0.1, 1, 10, 100], "format": "~g"}},
        "y": {"field": "pH", "type": "quantitative", "scale": {"domain": [5, 9]},
              "axis": {"title": "pH", "values": [5, 6, 7, 8, 9], "format": "d", "titlePadding": 5}},
        "color": {"field": "run", "type": "nominal",
                  "scale": {"domain": ["0,32-#1", "0,00-#1", "0,32-#2", "0,00-#2"], "range": ["#4a7ebb", "#be4b48", "#7ca7dc", "#d4706d"]},
                  "legend": {"title": null, "legendX": 477, "legendY": 313, "rowPadding": 0, "labelExpr": "'Caco-2-' + datum.label"}},
        "strokeWidth": {"field": "run", "type": "nominal",
                        "scale": {"type": "ordinal", "domain": ["0,32-#1", "0,00-#1", "0,32-#2", "0,00-#2"], "range": [2.6, 2.6, 1.1, 1.1]},
                        "legend": {"title": null, "legendX": 477, "legendY": 313, "rowPadding": 0, "labelExpr": "'Caco-2-' + datum.label"}}
      }
    }
  ]
}
